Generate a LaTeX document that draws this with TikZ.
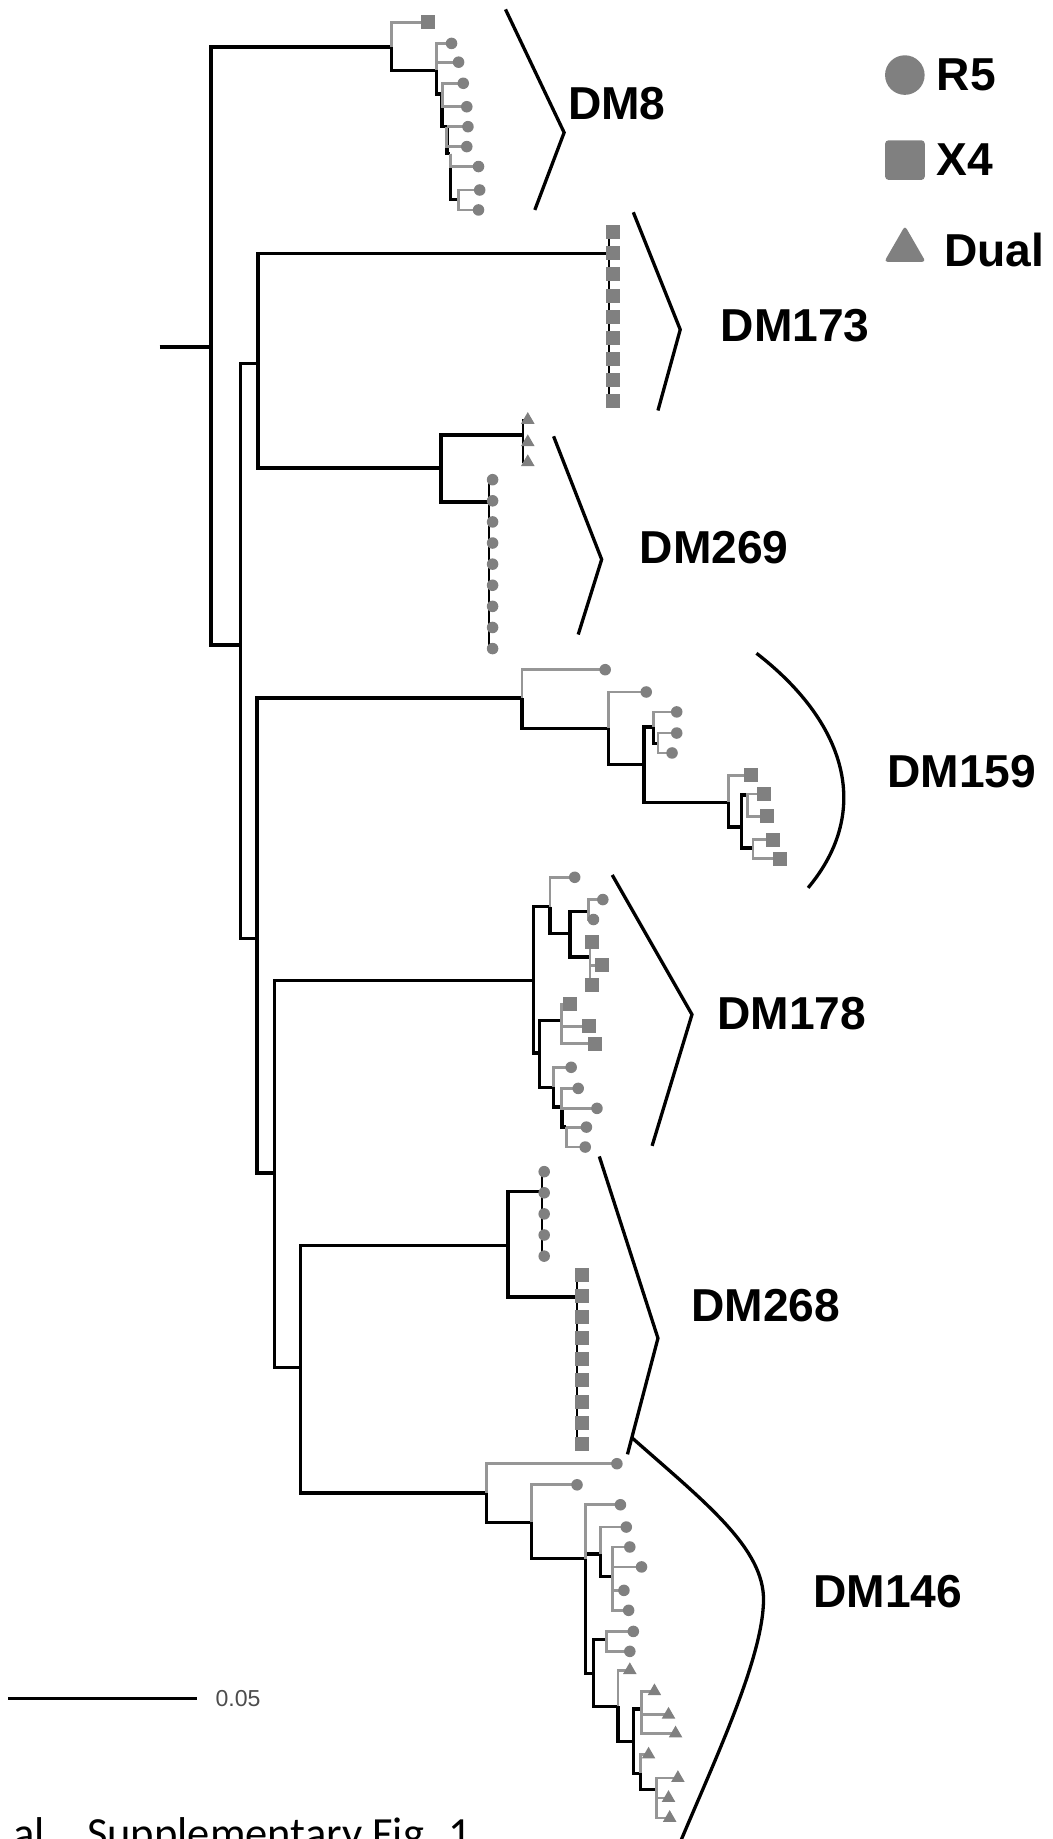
\documentclass[tikz,border=0pt]{standalone}
\usepackage{fontspec}
\setmainfont{Liberation Sans}
\newfontfamily\capfont{Carlito}
\usetikzlibrary{positioning,shapes.geometric}
\definecolor{mk}{RGB}{128,128,128}
\definecolor{tipgray}{RGB}{150,150,150}

\begin{document}
\begin{tikzpicture}[x=0.025cm, y=-0.025cm, every node/.style={inner sep=0pt}]
  \tikzstyle{br}=[line width=2.1pt]
  \tikzstyle{tip}=[line width=1.7pt, draw=tipgray]
  \tikzstyle{col}=[line width=1.3pt]
  \tikzstyle{brk}=[line width=2pt]
  \tikzstyle{r5}=[circle, fill=mk, minimum size=7pt]
  \tikzstyle{x4}=[rectangle, fill=mk, minimum size=8.5pt]
  \tikzstyle{dual}=[regular polygon, regular polygon sides=3, fill=mk, minimum size=9.5pt]
  \tikzstyle{clade}=[font=\bfseries\fontsize{28}{32}\selectfont]
  \useasboundingbox (0,0) rectangle (897,1568);
  \clip (0,0) rectangle (897,1568);

  % backbone
  \coordinate (root) at (136,296);
  \coordinate (nA) at (180,296);
  \coordinate (nB) at (205,550);
  \coordinate (nC) at (220,310);
  \coordinate (nD) at (219,800);
  \coordinate (nE) at (234,1000);
  \coordinate (nF) at (256,1166);
  \coordinate (dm8) at (334,40);
  \coordinate (dm173) at (519,216);
  \coordinate (dm269) at (376,399);
  \coordinate (dm159) at (445,595);
  \coordinate (dm178) at (455,836);
  \coordinate (dm268) at (433,1062);
  \coordinate (dm146) at (415,1273);

  % inner nodes of the clades
  \coordinate (d8a) at (372,60);
  \coordinate (d8b) at (377,80);
  \coordinate (d8c) at (381,108);
  \coordinate (d8d) at (384,131);
  \coordinate (d8e) at (391,170);
  \coordinate (d269a) at (446,371);
  \coordinate (d269b) at (417,428);
  \coordinate (d159a) at (519,621);
  \coordinate (d159b) at (549,652);
  \coordinate (d159c) at (557,620);
  \coordinate (d159d) at (561,634);
  \coordinate (d159e) at (621,684);
  \coordinate (d159f) at (632,705);
  \coordinate (d159g) at (637,678);
  \coordinate (d159h) at (642,723);
  \coordinate (d178a) at (469,773);
  \coordinate (d178b) at (486,796);
  \coordinate (d178c) at (502,777);
  \coordinate (d178d) at (503,816);
  \coordinate (d178e) at (460,898);
  \coordinate (d178f) at (479,870);
  \coordinate (d178g) at (472,927);
  \coordinate (d178h) at (479,944);
  \coordinate (d178i) at (483,961);
  \coordinate (d268a) at (462,1016);
  \coordinate (d268b) at (492,1106);
  \coordinate (d146a) at (453,1298);
  \coordinate (d146b) at (499,1329);
  \coordinate (d146c) at (512,1325);
  \coordinate (d146k) at (522,1344);
  \coordinate (d146d) at (506,1427);
  \coordinate (d146e) at (517,1398);
  \coordinate (d146f) at (527,1455);
  \coordinate (d146g) at (540,1485);
  \coordinate (d146h) at (547,1457);
  \coordinate (d146i) at (546,1512);
  \coordinate (d146j) at (560,1526);

  % leaves
  \foreach \n/\x/\y in {0/365/19, 1/385/37, 2/391/53, 3/395/71, 4/398/91, 5/399/108, 6/398/125, 7/408/142, 8/409/162, 9/408/179}
    \coordinate (k8-\n) at (\x,\y);
  \foreach \i in {1,...,9} \coordinate (k173-\i) at (523,{180+18*\i});
  \foreach \n/\y in {1/358, 2/377, 3/394} \coordinate (k269t-\n) at (450,\y);
  \foreach \i in {1,...,9} \coordinate (k269c-\i) at (420,{391+18*\i});
  \foreach \n/\x/\y in {1/516/571, 2/551/590, 3/577/607, 4/577/625, 5/573/642, 6/640/661, 7/651/677, 8/654/696, 9/659/716, 10/665/732}
    \coordinate (k159-\n) at (\x,\y);
  \foreach \n/\x/\y in {1/490/748, 2/514/767, 3/506/784, 4/505/803, 5/513/823, 6/505/840, 7/486/856, 8/502/875, 9/507/890, 10/487/910, 11/493/928, 12/509/945, 13/500/961, 14/499/978}
    \coordinate (k178-\n) at (\x,\y);
  \foreach \i in {1,...,5} \coordinate (k268c-\i) at (464,{981+18*\i});
  \foreach \i in {1,...,9} \coordinate (k268s-\i) at (496,{1069+18*\i});
  \foreach \n/\x/\y in {1/526/1248, 2/492/1266, 3/529/1283, 4/534/1302, 5/537/1319, 6/547/1336, 7/532/1356, 8/536/1373, 9/540/1391, 10/537/1408, 11/537/1424, 12/558/1442, 13/570/1462, 14/576/1478, 15/553/1496, 16/578/1516, 17/570/1533, 18/571/1550}
    \coordinate (k146-\n) at (\x,\y);

  % branches
  \draw[br] (root) -- (nA);
  \foreach \p/\c in {nA/dm8, nA/nB, nB/nC, nB/nD, nC/dm173, nC/dm269, nD/dm159, nD/nE, nE/dm178, nE/nF, nF/dm268, nF/dm146,
      dm8/d8a, d8a/d8b, d8b/d8c, d8c/d8d, d8d/d8e, dm269/d269a, dm269/d269b,
      dm159/d159a, d159a/d159b, d159b/d159c, d159c/d159d, d159b/d159e, d159e/d159f, d159f/d159g, d159f/d159h,
      dm178/d178a, d178a/d178b, d178b/d178c, d178b/d178d, dm178/d178e, d178e/d178f, d178e/d178g, d178g/d178h, d178h/d178i,
      dm268/d268a, dm268/d268b,
      dm146/d146a, d146a/d146b, d146b/d146c, d146c/d146k, d146b/d146d, d146d/d146e, d146d/d146f, d146f/d146g, d146g/d146h, d146g/d146i, d146i/d146j}
    \draw[br] (\p) |- (\c);
  \foreach \p/\c in {dm8/k8-0, d8a/k8-1, d8a/k8-2, d8b/k8-3, d8b/k8-4, d8c/k8-5, d8c/k8-6, d8d/k8-7, d8e/k8-8, d8e/k8-9,
      dm159/k159-1, d159a/k159-2, d159c/k159-3, d159d/k159-4, d159d/k159-5, d159e/k159-6, d159g/k159-7, d159g/k159-8, d159h/k159-9, d159h/k159-10,
      d178a/k178-1, d178c/k178-2, d178c/k178-3, d178d/k178-4, d178d/k178-5, d178d/k178-6, d178f/k178-7, d178f/k178-8, d178f/k178-9,
      d178g/k178-10, d178h/k178-11, d178h/k178-12, d178i/k178-13, d178i/k178-14,
      dm146/k146-1, d146a/k146-2, d146b/k146-3, d146c/k146-4, d146k/k146-5, d146k/k146-6, d146k/k146-7, d146k/k146-8,
      d146e/k146-9, d146e/k146-10, d146f/k146-11, d146h/k146-12, d146h/k146-13, d146h/k146-14, d146i/k146-15,
      d146j/k146-16, d146j/k146-17, d146j/k146-18}
    \draw[tip] (\p) |- (\c);
  \foreach \i in {1,...,9} \draw[col] (dm173) |- (k173-\i);
  \foreach \i in {1,2,3} \draw[col] (d269a) |- (k269t-\i);
  \foreach \i in {1,...,9} \draw[col] (d269b) |- (k269c-\i);
  \foreach \i in {1,...,5} \draw[col] (d268a) |- (k268c-\i);
  \foreach \i in {1,...,9} \draw[col] (d268b) |- (k268s-\i);

  % tip markers
  \node[x4] (m8-0) at (k8-0) {};
  \foreach \i in {1,...,9} \node[r5] (m8-\i) at (k8-\i) {};
  \foreach \i in {1,...,9} \node[x4] (m173-\i) at (k173-\i) {};
  \foreach \i in {1,2,3} \node[dual] (m269t-\i) at (k269t-\i) {};
  \foreach \i in {1,...,9} \node[r5] (m269c-\i) at (k269c-\i) {};
  \foreach \i in {1,...,5} \node[r5] (m159-\i) at (k159-\i) {};
  \foreach \i in {6,...,10} \node[x4] (m159-\i) at (k159-\i) {};
  \foreach \i in {1,2,3,10,11,12,13,14} \node[r5] (m178-\i) at (k178-\i) {};
  \foreach \i in {4,...,9} \node[x4] (m178-\i) at (k178-\i) {};
  \foreach \i in {1,...,5} \node[r5] (m268c-\i) at (k268c-\i) {};
  \foreach \i in {1,...,9} \node[x4] (m268s-\i) at (k268s-\i) {};
  \foreach \i in {1,...,10} \node[r5] (m146-\i) at (k146-\i) {};
  \foreach \i in {11,...,18} \node[dual] (m146-\i) at (k146-\i) {};

  % clade brackets
  \coordinate (b8a) at (431,8);    \coordinate (b8b) at (481,113);   \coordinate (b8c) at (456,179);
  \coordinate (b173a) at (540,181); \coordinate (b173b) at (580,281); \coordinate (b173c) at (561,350);
  \coordinate (b269a) at (472,372); \coordinate (b269b) at (513,477); \coordinate (b269c) at (493,541);
  \coordinate (b159a) at (645,557); \coordinate (b159b) at (689,757);
  \coordinate (b178a) at (522,746); \coordinate (b178b) at (590,865); \coordinate (b178c) at (556,977);
  \coordinate (b268a) at (511,986); \coordinate (b268b) at (561,1141); \coordinate (b268c) at (535,1240);
  \coordinate (b146a) at (539,1226); \coordinate (b146b) at (651,1365); \coordinate (b146c) at (570,1595);
  \draw[brk] (b8a) -- (b8b) -- (b8c);
  \draw[brk] (b173a) -- (b173b) -- (b173c);
  \draw[brk] (b269a) -- (b269b) -- (b269c);
  \draw[brk] (b159a) .. controls (720,615) and (745,690) .. (b159b);
  \draw[brk] (b178a) -- (b178b) -- (b178c);
  \draw[brk] (b268a) -- (b268b) -- (b268c);
  \draw[brk] (b146a) .. controls (600,1280) and (652,1320) .. (b146b) .. controls (650,1420) and (600,1520) .. (b146c);

  \node[clade] (l8) at (526,88) {DM8};
  \node[clade] (l173) at (678,278) {DM173};
  \node[clade] (l269) at (609,467) {DM269};
  \node[clade] (l159) at (820,658) {DM159};
  \node[clade] (l178) at (675,864) {DM178};
  \node[clade] (l268) at (653,1113) {DM268};
  \node[clade] (l146) at (757,1357) {DM146};

  % legend
  \node[circle, fill=mk, minimum size=24pt] (kR5) at (771.5,64) {};
  \node[rectangle, fill=mk, rounded corners=2pt, minimum size=24pt] (kX4) at (771.6,136.5) {};
  \node[regular polygon, regular polygon sides=3, fill=mk, rounded corners=2pt, minimum size=29pt] (kDual) at (771.6,213) {};
  \node[clade, right=7pt of kR5] (tR5) {R5};
  \node[clade, right=7pt of kX4] (tX4) {X4};
  \node[clade, right=15pt of kDual] (tDual) {Dual};

  % scale bar
  \coordinate (sb0) at (7,1448);
  \coordinate (sb1) at (168,1448);
  \draw[br] (sb0) -- (sb1);
  \node[font=\fontsize{14}{16}\selectfont, text=black!70, right=11pt of sb1] (sbl) {0.05};

  \node[font=\capfont\fontsize{27}{30}\selectfont, anchor=base west] (cap) at (11,1576) {al.\hspace{0.7em}Supplementary Fig. 1};
\end{tikzpicture}
\end{document}
